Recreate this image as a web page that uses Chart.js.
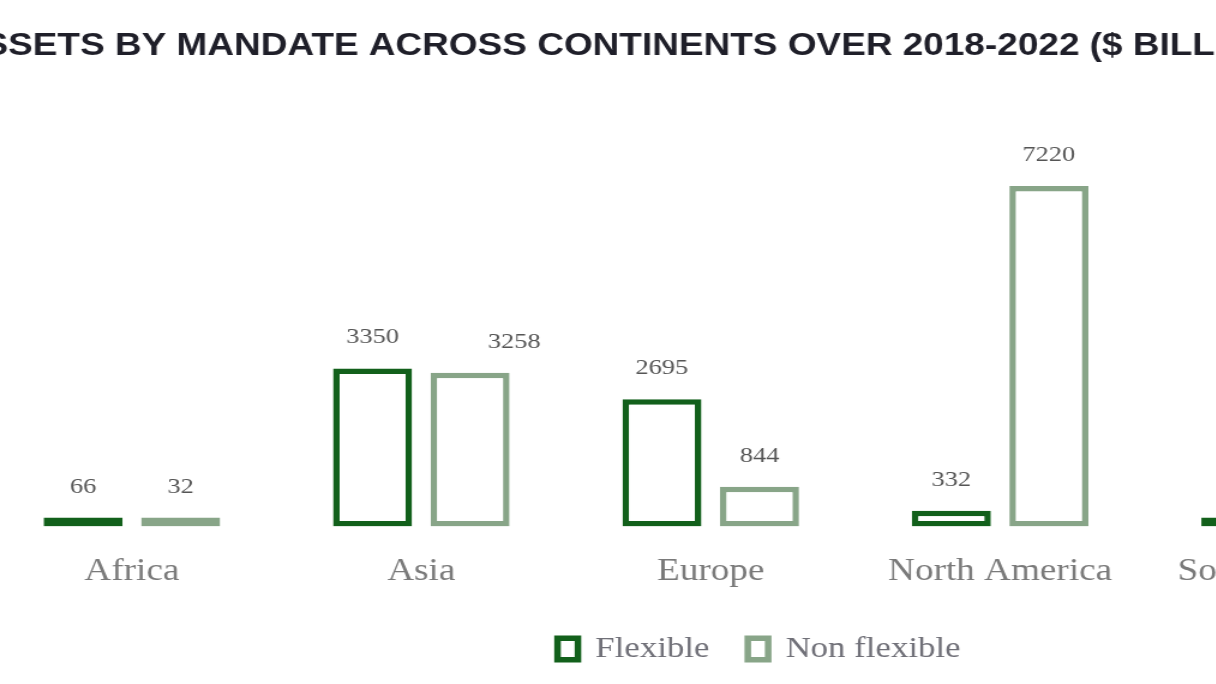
<!DOCTYPE html>
<html>
<head>
<meta charset="utf-8">
<script src="https://cdn.jsdelivr.net/npm/chart.js@4.4.1/dist/chart.umd.min.js"></script>
<style>
    html, body { margin: 0; padding: 0; background: #fff; overflow: hidden; }
    /* the reference is stretched sideways, so the canvas is too */
    #wrap {
        position: absolute; left: -60px; top: 0;
        width: 1351px; height: 684px;
        transform: scaleX(1.2); transform-origin: 0 0;
    }
</style>
</head>
<body>
<div id="wrap"><canvas id="chart"></canvas></div>
<script>
// Data
const continents = ["Africa", "Asia", "Europe", "North America", "South America"];
const flexible = [66, 3350, 2695, 332, 150];
const nonFlexible = [32, 3258, 844, 7220, 480];

const darkGreen = "#12601b";
const greyGreen = "#88a588";
const serif = "'Liberation Serif', 'DejaVu Serif', serif";

// Value labels drawn above each bar
const valueLabels = {
    id: "valueLabels",
    afterDatasetsDraw(chart, args, opts) {
        const ctx = chart.ctx;
        ctx.save();
        ctx.font = opts.font;
        ctx.fillStyle = opts.color;
        ctx.textAlign = "center";
        ctx.textBaseline = "alphabetic";
        chart.data.datasets.forEach((ds, di) => {
            chart.getDatasetMeta(di).data.forEach((bar, i) => {
                const shift = opts.shift[di + "-" + i] || 0;
                ctx.fillText(ds.data[i], bar.x + shift, bar.y - opts.gap);
            });
        });
        ctx.restore();
    },
};

const barStyle = {
    backgroundColor: "#ffffff",
    borderWidth: 5.5,
    borderSkipped: false,
    minBarLength: 9,
};

new Chart(document.getElementById("chart"), {
    type: "bar",
    data: {
        labels: continents,
        datasets: [
            { label: "Flexible", data: flexible, borderColor: darkGreen, ...barStyle },
            { label: "Non flexible", data: nonFlexible, borderColor: greyGreen, ...barStyle },
        ],
    },
    options: {
        responsive: true,
        maintainAspectRatio: false,
        animation: false,
        categoryPercentage: 0.674,
        barPercentage: 0.81,
        layout: { padding: { left: 14, right: 0, top: 0, bottom: 10.5 } },
        scales: {
            x: {
                grid: { display: false },
                border: { display: false },
                ticks: { color: "#7a7a7a", font: { family: serif, size: 31 }, padding: 19 },
                afterFit: (s) => { s.height = 76; },
            },
            y: {
                min: 0,
                max: 9000,
                grid: { display: false },
                border: { display: false },
                ticks: { display: false },
                afterFit: (s) => { s.width = 25.3; },
            },
            y2: {
                position: "right",
                grid: { display: false },
                border: { display: false },
                ticks: { display: false },
                afterFit: (s) => { s.width = 105.8; },
            },
        },
        plugins: {
            title: {
                display: true,
                align: "start",
                text: "ASSETS BY MANDATE ACROSS CONTINENTS OVER 2018-2022 ($ BILLION)",
                color: "#1f1f29",
                font: { family: "'Liberation Sans', Arial, sans-serif", size: 30.8, weight: "bold" },
                padding: { top: 28.5, bottom: 36.5 },
            },
            legend: {
                position: "bottom",
                labels: {
                    color: "#707078",
                    font: { family: serif, size: 29 },
                    boxWidth: 17,
                    boxHeight: 21.5,
                    padding: 32,
                },
            },
            tooltip: { enabled: false },
            valueLabels: {
                font: "22px " + serif,
                color: "#555555",
                gap: 25,
                shift: { "1-1": 36.7 },
            },
        },
    },
    plugins: [valueLabels],
});
</script>
</body>
</html>
